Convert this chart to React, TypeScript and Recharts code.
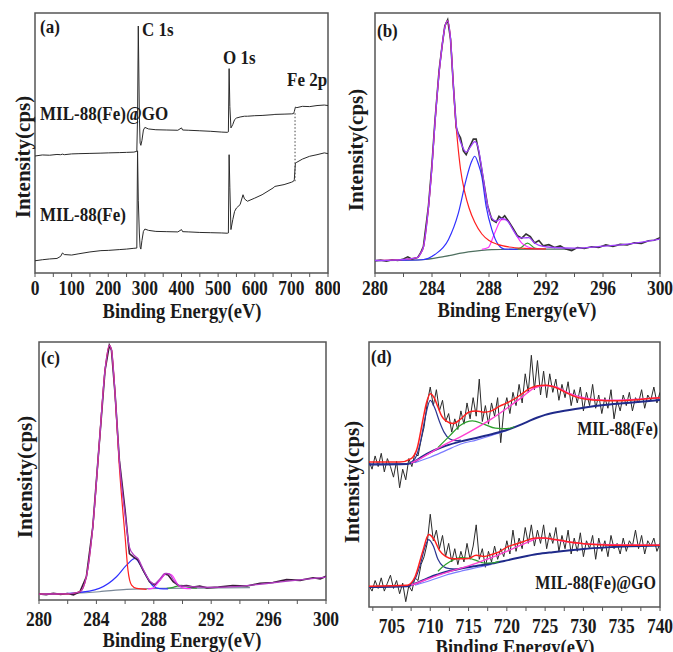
import React from "react";
import { LineChart, Line, XAxis, YAxis, ReferenceArea, ReferenceLine } from "recharts";

const FONT = '"Liberation Serif", "Times New Roman", serif';
const INK = "#1a1a1a";
const FRAME = "#555";

// ---------- (a) survey spectra ----------
const surveyEnergy = [0, 20, 40, 60, 70, 75, 80, 100, 120, 150, 180, 200, 230, 250, 270, 278, 280, 282, 285, 287, 289, 292, 296, 300, 310, 330, 360, 390, 400, 403, 420, 450, 480, 510, 525, 528, 530, 532, 535, 540, 545, 550, 560, 568, 572, 580, 600, 620, 650, 655, 680, 700, 706, 708, 711, 715, 730, 750, 770, 790, 800];
const surveyGO = [45.0, 45.4, 45.3, 45.6, 45.5, 45.7, 45.5, 45.8, 45.9, 46.0, 46.1, 46.2, 46.3, 46.4, 46.5, 46.8, 60, 95, 60, 50, 49.1, 51, 55, 56.0, 55.4, 55.1, 55.0, 54.9, 55.8, 55.0, 54.9, 54.7, 54.5, 54.2, 54.1, 54.3, 78.6, 64, 55.8, 57.1, 59.0, 59.6, 60.0, 60.2, 60.3, 60.3, 60.5, 60.6, 60.9, 61.0, 61.1, 61.2, 61.3, 62.1, 63.8, 63.6, 64.1, 64.0, 64.4, 64.6, 64.4];
const surveyFe = [4.7, 5.1, 5.4, 5.6, 6.4, 7.7, 7.1, 6.9, 7.4, 8.1, 8.6, 8.7, 9.0, 9.2, 9.5, 9.6, 47, 28, 15, 10, 9.2, 12.5, 16, 16.9, 16.4, 16.0, 15.9, 15.8, 16.7, 15.9, 15.8, 15.6, 15.5, 15.4, 15.3, 15.4, 45.5, 33, 16.7, 20.5, 23.7, 25.0, 26.3, 30.1, 28.5, 27.6, 28.8, 30.1, 32.7, 33.3, 34.0, 34.9, 35.3, 35.9, 42.3, 42.6, 43.8, 44.9, 45.5, 46.2, 45.9];
const surveyTicks = [0, 50, 100, 150, 200, 250, 300, 350, 400, 450, 500, 550, 600, 650, 700, 750, 800];
const surveyMajors = [0, 100, 200, 300, 400, 500, 600, 700, 800];

// ---------- (b) C 1s, MIL-88(Fe) ----------
const bRawE = [280, 280.4, 280.8, 281.2, 281.6, 282.0, 282.3, 282.6, 283.0, 283.2, 283.4, 283.75, 284.0, 284.2, 284.5, 284.7, 284.9, 285.1, 285.3, 285.5, 285.7, 285.85, 286.0, 286.2, 286.4, 286.6, 286.9, 287.1, 287.3, 287.6, 287.9, 288.2, 288.5, 288.7, 288.9, 289.1, 289.4, 289.7, 290.0, 290.3, 290.6, 290.9, 291.2, 291.5, 291.8, 292.2, 292.6, 293.0, 293.4, 293.8, 294.2, 294.7, 295.2, 295.7, 296.2, 296.7, 297.2, 297.7, 298.2, 298.7, 299.2, 299.6, 300];
const bRaw = [4.7, 5.0, 4.5, 5.1, 4.8, 5.4, 6.2, 5.3, 6.0, 7.7, 10.3, 25.6, 42, 58, 78, 87, 95, 97.4, 90, 72, 56, 53.5, 52, 47, 45.5, 48, 51.5, 51.5, 46, 36, 26, 20.5, 19.5, 21.8, 20.9, 22, 19.6, 17, 14.3, 13.4, 15, 14, 11.6, 12.5, 10.5, 10.9, 9.8, 10.4, 9.2, 8.6, 9.8, 9.4, 10.1, 9.8, 10.8, 10.2, 11.0, 10.8, 11.6, 11.4, 12.4, 12.6, 13.6];
const bEnvE = [280, 281, 282, 283, 283.2, 283.4, 283.75, 284.0, 284.2, 284.5, 284.7, 284.9, 285.1, 285.3, 285.5, 285.7, 285.9, 286.1, 286.4, 286.7, 287.0, 287.2, 287.5, 287.8, 288.1, 288.5, 288.9, 289.3, 289.7, 290.1, 290.5, 290.8, 291.2, 291.8, 292.5, 294, 296, 298, 300];
const bEnv = [4.8, 4.9, 5.2, 6.0, 7.5, 10, 25, 41, 57, 77, 87, 94.5, 97, 90, 72, 57, 52, 49, 46.5, 48.5, 50.5, 49, 40, 29, 22, 20, 21, 20, 16.5, 13.6, 13.5, 13.6, 11.5, 10.2, 9.8, 9.6, 10.3, 11.3, 13.0];
const bRedE = [280, 282, 283, 283.2, 283.4, 283.75, 284.0, 284.2, 284.5, 284.7, 284.9, 285.1, 285.3, 285.5, 285.6, 285.8, 286.0, 286.3, 286.6, 287.0, 287.5, 288.0, 288.6, 289.4, 290.5, 292];
const bRed = [4.8, 5.2, 6.0, 7.5, 10, 25, 41, 57, 77, 87, 94.5, 97, 90, 72, 63, 50, 40, 31, 25, 19.5, 15, 12.5, 11, 10, 9.5, 9.3];
const bBlueE = [280, 283.3, 284.2, 285.15, 285.85, 286.4, 286.75, 287.0, 287.25, 287.5, 287.8, 288.2, 288.65, 289.1, 290];
const bBlue = [4.8, 5.1, 7.1, 12.8, 23, 36, 42.5, 44.9, 42, 37, 25.6, 16.7, 10.9, 9.2, 9.1];
const bMagE = [287.5, 287.95, 288.4, 288.9, 289.25, 289.7, 290.3, 291, 291.6];
const bMag = [9.1, 9.8, 15.4, 20.5, 20.5, 16.7, 11.5, 9.6, 9.2];
const bGreenE = [289.8, 290.2, 290.7, 291.2, 291.6];
const bGreen = [9.1, 9.6, 11.5, 9.6, 9.2];
const bBaseE = [280, 283.3, 284.9, 286.55, 288.2, 291.2, 294];
const bBase = [4.7, 5.1, 6.4, 8.1, 9.0, 9.2, 9.2];

// ---------- (c) C 1s, MIL-88(Fe)@GO ----------
const cRawE = [280, 280.5, 281, 281.5, 282, 282.4, 282.85, 283.3, 283.75, 284.2, 284.6, 284.9, 285.05, 285.3, 285.6, 286.0, 286.3, 286.55, 286.9, 287.25, 287.7, 288.05, 288.4, 288.75, 289.0, 289.35, 289.8, 290.3, 290.75, 291.2, 291.7, 292.5, 293.5, 294.5, 295.4, 296.3, 297.25, 298.2, 299.1, 299.6, 300];
const cRaw = [2.3, 2.1, 2.6, 2.2, 2.5, 2.0, 3.2, 9, 28.4, 60.6, 89, 98.7, 96.8, 80, 54.2, 34.8, 18, 16.8, 15.5, 11.6, 7.1, 5.8, 7.7, 10.1, 9.7, 7.1, 5.4, 5.6, 5.0, 5.4, 4.7, 5.0, 5.6, 5.4, 6.5, 6.8, 7.9, 7.6, 8.6, 8.2, 9.2];
const cEnvE = [280, 282, 282.85, 283.3, 283.75, 284.2, 284.6, 284.9, 285.05, 285.3, 285.6, 286.0, 286.3, 286.6, 286.9, 287.25, 287.7, 288.05, 288.4, 288.8, 289.1, 289.4, 289.8, 290.5, 292, 294, 296, 298, 300];
const cEnv = [2.3, 2.4, 3.2, 9, 28.4, 60.6, 89, 98.7, 97, 80, 54, 33, 20.5, 17.5, 16, 12, 7.5, 6.2, 8, 10.3, 10, 7.5, 5.6, 5.2, 4.9, 5.3, 6.5, 7.7, 8.9];
const cRedE = [280, 282, 282.85, 283.3, 283.75, 284.2, 284.6, 284.9, 285.05, 285.3, 285.6, 286.0, 286.2, 286.45, 286.8, 287.5];
const cRed = [2.3, 2.4, 3.2, 9, 28.4, 60.6, 89, 98.7, 97, 80, 51.6, 24.5, 11.6, 5.8, 4.5, 4.1];
const cBlueE = [280, 282.6, 284.2, 285.4, 286.1, 286.7, 287.0, 287.5, 287.95, 288.4, 289];
const cBlue = [2.2, 2.8, 4.5, 9, 13.5, 16.1, 14.2, 9, 5.4, 4.4, 4.3];
const cMagE = [287.6, 287.95, 288.4, 288.9, 289.25, 289.7, 290.15, 290.6];
const cMag = [4.3, 4.6, 7.5, 10.3, 9.7, 5.8, 4.5, 4.4];
const cGreenE = [288.9, 289.35, 289.9, 290.5, 291];
const cGreen = [4.5, 4.9, 5.7, 4.9, 4.6];
const cBaseE = [280, 282.6, 284.2, 286.1, 288.4, 291.2, 294.7];
const cBase = [2.2, 2.6, 3.2, 4.1, 4.5, 4.6, 4.8];

const cTicks = [280, 282, 284, 286, 288, 290, 292, 294, 296, 298, 300];
const cMajors = [280, 284, 288, 292, 296, 300];

// ---------- (d) Fe 2p ----------
// raw scans are sampled every 0.4 eV from 702 eV
const dStep = 0.4;
const dStart = 702;
const dFeRaw = [55, 52, 57, 53, 58, 51, 56, 53, 49, 55, 45, 52, 48, 56, 53, 58, 57, 63, 68, 77, 83, 76, 82, 74, 78, 70, 73, 66, 71, 67, 74, 69, 77, 71, 79, 72, 86, 70, 76, 69, 77, 72, 79, 62, 74, 79, 73, 81, 76, 84, 77, 88, 81, 95, 82, 93, 80, 89, 79, 88, 81, 86, 78, 84, 79, 85, 76, 82, 77, 83, 74, 81, 76, 84, 75, 80, 73, 79, 75, 82, 71, 78, 74, 80, 76, 81, 74, 79, 77, 82, 75, 80, 78, 83, 77, 81];
const dGORaw = [8, 6, 10, 7, 11, 6, 9, 12, 7, 10, 5, 9, 2, 8, 6, 11, 10, 16, 19, 24, 35, 25, 29, 22, 27, 19, 24, 17, 22, 16, 21, 17, 24, 18, 23, 31, 18, 22, 15, 21, 17, 23, 18, 22, 19, 25, 20, 29, 21, 26, 22, 30, 24, 31, 23, 29, 24, 31, 22, 28, 24, 30, 21, 27, 22, 29, 20, 26, 21, 28, 19, 25, 22, 27, 18, 26, 21, 25, 19, 27, 22, 24, 20, 26, 21, 25, 23, 29, 22, 27, 20, 25, 23, 26, 21, 24];
const dRawE = dFeRaw.map((_, i) => +(dStart + i * dStep).toFixed(1));

const dFeEnvE = [702, 706, 707.5, 708.3, 709, 709.5, 710, 710.5, 711, 711.5, 712, 713, 714, 715, 716, 717, 718, 719, 720, 721, 722, 723, 724, 725, 726, 727, 728, 729, 730, 732, 734, 736, 738, 740];
const dFeEnv = [54.7, 54.7, 56, 60, 70, 77, 80.5, 79, 75.5, 72, 70.3, 69.2, 71, 73.5, 74, 73.5, 74, 75.7, 77, 78.5, 80.5, 82.5, 83.5, 83.7, 83.2, 82, 80.5, 79.3, 78.6, 78, 77.8, 78, 78.5, 79];
const dFeNavyE = [702, 707, 708, 708.7, 709.3, 710, 710.6, 711.2, 711.8, 712.5, 713.3, 714];
const dFeNavy = [53.9, 54.1, 56, 62, 71, 78, 75, 70, 66, 63.5, 62.8, 63];
const dFeGreenE = [711, 712.5, 714, 715.5, 717, 718.5, 720, 721];
const dFeGreen = [60.2, 64.5, 68.7, 70.2, 69, 67.5, 67.3, 68];
const dFeMagE = [707.5, 709, 710.5, 712, 714, 716, 718, 720, 722, 723.5, 725, 726.5, 728, 730, 733, 736, 740];
const dFeMag = [54.3, 56.5, 59, 61.5, 64.3, 67.5, 71, 75, 79.2, 82.5, 83.6, 83, 80.8, 79, 78, 78.2, 79];
const dFeBaseE = [702, 707, 708, 709, 710, 711, 712, 714, 716, 718, 720, 722, 723, 724, 725, 727, 730, 733, 736, 740];
const dFeBase = [53.8, 54, 55, 56.8, 58.4, 59.7, 60.8, 62.5, 63.8, 65.2, 66.8, 69, 70.3, 71.5, 72.5, 73.8, 75.2, 76.3, 77.1, 78.1];
const dFeLightE = [708, 710, 712, 714, 716, 718, 720];
const dFeLight = [54.5, 56.5, 59, 61.5, 63, 64.7, 66.6];

const dGOEnvE = [702, 707, 708, 709, 709.8, 710.5, 711.2, 712, 713, 714, 715, 716, 717, 718, 719, 720, 721, 722, 723, 724, 725, 726, 727, 728, 730, 732, 735, 738, 740];
const dGOEnv = [7.8, 8.2, 11.3, 20.8, 27.4, 25.5, 21.4, 19.1, 18.2, 18.2, 18.3, 19.5, 19.1, 19.8, 20.8, 22.6, 23.6, 24.5, 25.6, 26.0, 26.0, 25.6, 25.2, 24.6, 23.9, 23.5, 23.3, 23.3, 23.3];
const dGONavyE = [702, 707, 708, 708.7, 709.3, 709.8, 710.4, 711, 711.7, 712.5, 713.5];
const dGONavy = [7.6, 8.0, 10.5, 16, 22.5, 25.4, 23, 18, 15.3, 14.5, 14.3];
const dGOGreenE = [711, 712, 713, 714, 715, 716, 717, 718, 719];
const dGOGreen = [13.5, 16, 17.8, 18.6, 18.4, 17.6, 16.6, 16.6, 17.2];
const dGOMagE = [707.5, 709, 711, 713, 715, 717, 719, 721, 723, 724.2, 725.5, 727, 730, 735, 740];
const dGOMag = [8.2, 9.8, 12, 13.8, 15.5, 17.6, 19.8, 22.3, 24.8, 26, 25.8, 25, 23.9, 23.4, 23.3];
const dGOBaseE = [702, 707, 708, 709, 710, 711, 712, 714, 716, 718, 720, 722, 724, 726, 728, 730, 733, 736, 740];
const dGOBase = [7.5, 7.8, 8.8, 10, 11.3, 12.3, 13.2, 14.5, 15.5, 16.4, 17.6, 18.9, 20, 20.7, 21.3, 21.9, 22.5, 22.9, 23.2];
const dGOLightE = [708, 710, 712, 714, 716, 718];
const dGOLight = [8.2, 10, 12, 13.5, 14.8, 16.1];

const dTicks = [702.5, 705, 707.5, 710, 712.5, 715, 717.5, 720, 722.5, 725, 727.5, 730, 732.5, 735, 737.5, 740];
const dMajors = [705, 710, 715, 720, 725, 730, 735, 740];

const pts = (xs: number[], ys: number[]) => xs.map((x, i) => ({ x, y: ys[i] }));

type Series = { data: { x: number; y: number }[]; color: string; width?: number; smooth?: boolean };

function tickRenderer(majors: number[]) {
  return (props: any) => {
    const { x, y, payload } = props;
    if (!majors.includes(payload.value)) return <g />;
    return (
      <g transform={`translate(${x},${y}) scale(1,1.2)`}>
        <text x={0} y={0} dy="0.71em" textAnchor="middle" fontFamily={FONT} fontWeight="bold" fontSize={17.5} fill={INK}>
          {payload.value}
        </text>
      </g>
    );
  };
}

function Panel(props: {
  left: number; top: number; width: number; height: number;
  margin: { top: number; right: number; left: number; bottom: number };
  axisH: number; domain: [number, number]; ticks: number[]; majors: number[]; gap: number;
  series: Series[]; children?: React.ReactNode;
}) {
  const { left, top, width, height, margin, axisH, domain, ticks, majors, gap, series, children } = props;
  return (
    <div style={{ position: "absolute", left, top }}>
      <LineChart width={width} height={height} margin={margin}>
        <XAxis
          type="number" dataKey="x" domain={domain} ticks={ticks} interval={0} allowDataOverflow
          height={axisH} axisLine={false} tickLine={{ stroke: FRAME }} tickSize={4} tickMargin={gap}
          tick={tickRenderer(majors)}
        />
        <YAxis hide domain={[0, 100]} allowDataOverflow />
        <ReferenceArea x1={domain[0]} x2={domain[1]} y1={0} y2={100} fill="none" stroke={FRAME} strokeWidth={1.5} />
        {series.map((s, i) => (
          <Line
            key={i} data={s.data} dataKey="y" type={s.smooth ? "monotone" : "linear"}
            stroke={s.color} strokeWidth={s.width ?? 1.2} dot={false} activeDot={false} isAnimationActive={false}
          />
        ))}
        {children}
      </LineChart>
    </div>
  );
}

function Note({ x, y, size = 17, align = "left", children }: { x: number; y: number; size?: number; align?: string; children: React.ReactNode }) {
  const tx = align === "center" ? "-50%" : align === "right" ? "-100%" : "0";
  return (
    <div style={{
      position: "absolute", left: x, top: y, fontFamily: FONT, fontWeight: "bold", fontSize: size,
      lineHeight: 1, whiteSpace: "nowrap", color: INK, transform: `translateX(${tx}) scaleY(1.15)`, transformOrigin: "top left",
    }}>{children}</div>
  );
}

function YTitle({ cx, cy }: { cx: number; cy: number }) {
  return (
    <div style={{
      position: "absolute", left: cx, top: cy, fontFamily: FONT, fontWeight: "bold", fontSize: 21,
      lineHeight: 1, whiteSpace: "nowrap", color: INK, transform: "translate(-50%,-50%) rotate(-90deg)",
    }}>Intensity(cps)</div>
  );
}

export default function App() {
  const raw = "#2a2a2a";
  return (
    <div style={{ position: "absolute", left: 0, top: 0, width: 673, height: 652, background: "#fff", overflow: "hidden" }}>
      {/* (a) survey */}
      <Panel
        left={0} top={0} width={340} height={310} margin={{ top: 13, right: 12, left: 35, bottom: 0 }}
        axisH={37} domain={[0, 800]} ticks={surveyTicks} majors={surveyMajors} gap={3}
        series={[
          { data: pts(surveyEnergy, surveyGO), color: raw, width: 1 },
          { data: pts(surveyEnergy, surveyFe), color: raw, width: 1 },
        ]}
      >
        <ReferenceLine segment={[{ x: 710, y: 35.3 }, { x: 710, y: 61.5 }]} stroke="#444" strokeDasharray="1.5 2" />
      </Panel>

      {/* (b) */}
      <Panel
        left={335} top={0} width={338} height={310} margin={{ top: 13, right: 13, left: 40, bottom: 0 }}
        axisH={37} domain={[280, 300]} ticks={cTicks} majors={cMajors} gap={3}
        series={[
          { data: pts(bBaseE, bBase), color: "#4f7060", smooth: true },
          { data: pts(bGreenE, bGreen), color: "#2fa02f", smooth: true },
          { data: pts(bMagE, bMag), color: "#ff30ff", smooth: true },
          { data: pts(bBlueE, bBlue), color: "#3030ff", smooth: true },
          { data: pts(bRawE, bRaw), color: "#333", width: 1.6 },
          { data: pts(bRedE, bRed), color: "#ff2020", smooth: true },
          { data: pts(bEnvE, bEnv), color: "#a040ff", width: 1.3, smooth: true },
        ]}
      />

      {/* (c) */}
      <Panel
        left={0} top={310} width={340} height={342} margin={{ top: 32, right: 14, left: 39, bottom: 0 }}
        axisH={52} domain={[280, 300]} ticks={cTicks} majors={cMajors} gap={7}
        series={[
          { data: pts(cBaseE, cBase), color: "#7a8898", smooth: true },
          { data: pts(cGreenE, cGreen), color: "#2fa02f", smooth: true },
          { data: pts(cBlueE, cBlue), color: "#3030ff", smooth: true },
          { data: pts(cRawE, cRaw), color: "#3a1a3a", width: 1.6 },
          { data: pts(cMagE, cMag), color: "#ff30ff", smooth: true },
          { data: pts(cRedE, cRed), color: "#ff2020", smooth: true },
          { data: pts(cEnvE, cEnv), color: "#b03cc0", width: 1.3, smooth: true },
        ]}
      />

      {/* (d) */}
      <Panel
        left={335} top={310} width={338} height={342} margin={{ top: 32, right: 13, left: 34, bottom: 0 }}
        axisH={45} domain={[702, 740]} ticks={dTicks} majors={dMajors} gap={7}
        series={[
          { data: pts(dRawE, dFeRaw), color: raw, width: 1 },
          { data: pts(dRawE, dGORaw), color: raw, width: 1 },
          { data: pts(dFeLightE, dFeLight), color: "#7b7bff", smooth: true },
          { data: pts(dGOLightE, dGOLight), color: "#7b7bff", smooth: true },
          { data: pts(dFeBaseE, dFeBase), color: "#1f2a8a", width: 2, smooth: true },
          { data: pts(dGOBaseE, dGOBase), color: "#1f2a8a", width: 2, smooth: true },
          { data: pts(dFeNavyE, dFeNavy), color: "#2c3590", smooth: true },
          { data: pts(dGONavyE, dGONavy), color: "#2c3590", smooth: true },
          { data: pts(dFeGreenE, dFeGreen), color: "#2ca02c", smooth: true },
          { data: pts(dGOGreenE, dGOGreen), color: "#2ca02c", smooth: true },
          { data: pts(dFeMagE, dFeMag), color: "#ff40d0", width: 1.4, smooth: true },
          { data: pts(dGOMagE, dGOMag), color: "#ff40d0", width: 1.4, smooth: true },
          { data: pts(dFeEnvE, dFeEnv), color: "#ff2020", width: 1.5, smooth: true },
          { data: pts(dGOEnvE, dGOEnv), color: "#ff2020", width: 1.5, smooth: true },
        ]}
      />

      {/* annotations */}
      <Note x={40} y={17}>(a)</Note>
      <Note x={142} y={20}>C 1s</Note>
      <Note x={223} y={48}>O 1s</Note>
      <Note x={287} y={70}>Fe 2p</Note>
      <Note x={40} y={104}>MIL-88(Fe)@GO</Note>
      <Note x={40} y={205}>MIL-88(Fe)</Note>
      <Note x={377} y={21}>(b)</Note>
      <Note x={41} y={348}>(c)</Note>
      <Note x={371} y={347}>(d)</Note>
      <Note x={658} y={420} size={16} align="right">MIL-88(Fe)</Note>
      <Note x={656} y={574} size={16} align="right">MIL-88(Fe)@GO</Note>

      <YTitle cx={23} cy={157} />
      <YTitle cx={356} cy={150} />
      <YTitle cx={25} cy={477} />
      <YTitle cx={352} cy={482} />

      <Note x={182} y={301} size={18.5} align="center">Binding Energy(eV)</Note>
      <Note x={517} y={300} size={18.5} align="center">Binding Energy(eV)</Note>
      <Note x={182} y={630} size={18.5} align="center">Binding Energy(eV)</Note>
      <Note x={515} y={637} size={18.5} align="center">Binding Energy(eV)</Note>
    </div>
  );
}
